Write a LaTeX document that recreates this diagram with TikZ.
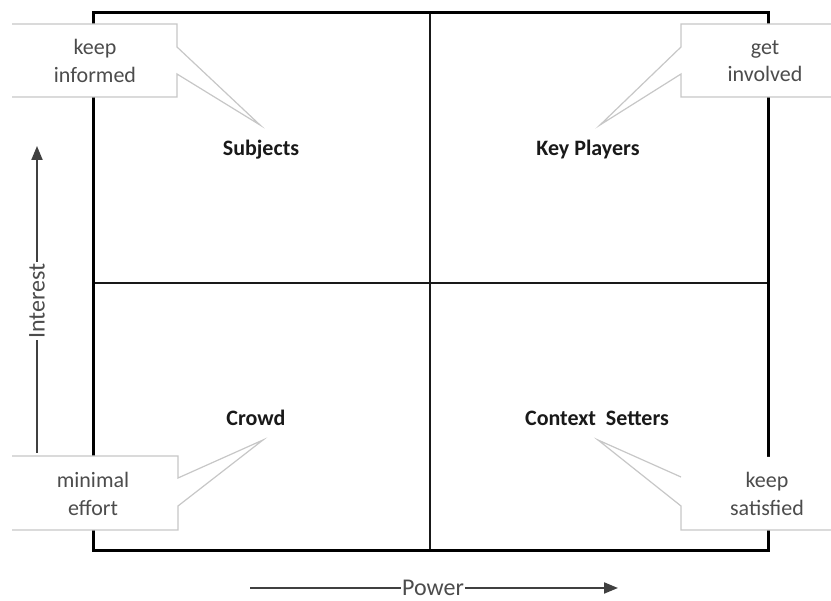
\documentclass[tikz,border=0pt]{standalone}
\usepackage{fontspec}
\setmainfont{Carlito}
\usetikzlibrary{arrows.meta}
\begin{document}
\begin{tikzpicture}[x=1pt,y=1pt,
  frame/.style={line width=3pt,black},
  divider/.style={line width=2pt,black!90},
  quad/.style={font=\fontsize{22}{26}\selectfont\bfseries,text=black!90,inner sep=0pt},
  calloutbox/.style={fill=white,draw=black!22,line width=1.2pt},
  callouttext/.style={font=\fontsize{22}{27.5}\selectfont,text=black!70,align=center,inner sep=0pt},
  axis/.style={line width=2pt,black!75,-{Triangle[length=14pt,width=11pt]}},
  axislabel/.style={font=\fontsize{24}{28}\selectfont,text=black!70,fill=white,inner sep=1pt}]
\useasboundingbox (0,0) rectangle (831,601);
\clip (0,0) rectangle (831,601);
% frame and quadrants
\coordinate (fSW) at (93,50);
\coordinate (fNE) at (768,588);
\coordinate (mT) at (430,588);
\coordinate (mB) at (430,50);
\coordinate (mL) at (93,318);
\coordinate (mR) at (768,318);
\draw[divider] (mT) -- (mB);
\draw[divider] (mL) -- (mR);
\draw[frame,line join=miter] (fSW) rectangle (fNE);
% quadrant labels
\node[quad] (subj) at (261,451) {Subjects};
\node[quad] (key) at (588,451) {Key Players};
\node[quad] (crowd) at (256,183) {Crowd};
\node[quad] (ctx) at (597,183) {Context\ \ Setters};
% pointer tips
\coordinate (t1) at (260,476);
\coordinate (t2) at (600,476);
\coordinate (t3) at (263,161);
\coordinate (t4) at (598,161);
% callout: keep informed
\fill[white] (12,577) -- (177,577) -- (177,554) -- (t1) -- (177,527) -- (177,504) -- (12,504) -- cycle;
\draw[calloutbox,fill=none] (12,577) -- (177,577) -- (177,554) -- (t1) -- (177,527) -- (177,504) -- (12,504);
\node[callouttext] (c1) at (95,540) {keep\\informed};
% callout: get involved
\fill[white] (845,577) -- (681,577) -- (681,554) -- (t2) -- (681,527) -- (681,504) -- (845,504) -- cycle;
\draw[calloutbox,fill=none] (845,577) -- (681,577) -- (681,554) -- (t2) -- (681,527) -- (681,504) -- (845,504);
\node[callouttext] (c2) at (765,540) {get\\involved};
% callout: minimal effort
\fill[white] (12,145) -- (178,145) -- (178,123) -- (t3) -- (178,95) -- (178,71) -- (12,71) -- cycle;
\draw[calloutbox,fill=none] (12,145) -- (178,145) -- (178,123) -- (t3) -- (178,95) -- (178,71) -- (12,71);
\node[callouttext] (c3) at (93,107) {minimal\\effort};
% callout: keep satisfied
\fill[white] (845,144) -- (681,144) -- (681,124) -- (t4) -- (681,95) -- (681,71) -- (845,71) -- cycle;
\draw[calloutbox,fill=none] (681,124) -- (t4) -- (681,95) -- (681,71) -- (845,71);
\node[callouttext] (c4) at (767,107) {keep\\satisfied};
% axes
\coordinate (iS) at (37,148);
\coordinate (iE) at (37,455);
\draw[axis] (iS) -- (iE);
\node[axislabel,rotate=90] (ilab) at (37,300) {Interest};
\coordinate (pS) at (250,13);
\coordinate (pE) at (618,13);
\draw[axis] (pS) -- (pE);
\node[axislabel] (plab) at (433,13) {Power};
\end{tikzpicture}
\end{document}
